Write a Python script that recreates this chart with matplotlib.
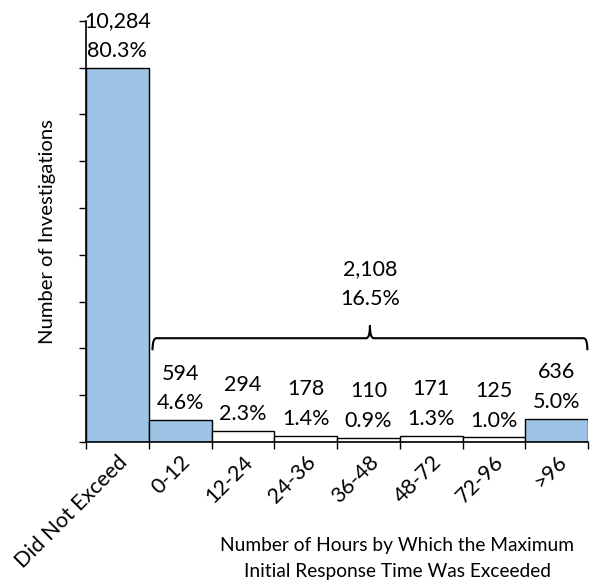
import matplotlib
matplotlib.use("Agg")
import matplotlib.pyplot as plt
from matplotlib.path import Path
from matplotlib.patches import PathPatch
import numpy as np

plt.rcParams['font.family'] = ['Lato', 'DejaVu Sans']

categories = ["Did Not Exceed", "0-12", "12-24", "24-36", "36-48", "48-72", "72-96", ">96"]
counts = [10284, 594, 294, 178, 110, 171, 125, 636]
percents = ["80.3%", "4.6%", "2.3%", "1.4%", "0.9%", "1.3%", "1.0%", "5.0%"]
highlighted = [True, True, False, False, False, False, False, True]
exceeded_total = 2108
exceeded_percent = "16.5%"

blue = "#9DC3E6"
fs = 15.5
ls = 1.6

fig = plt.figure(figsize=(5.90, 5.88), dpi=100)
ax = fig.add_axes([86 / 590, 1 - 442 / 588, (588 - 86) / 590, (442 - 20.7) / 588])

x = np.arange(len(categories))
colors = [blue if h else "white" for h in highlighted]
bars = ax.bar(x, counts, width=1.0, color=colors, edgecolor="black", linewidth=1.0, zorder=2)

for xi, c, p in zip(x, counts, percents):
    ax.annotate(f"{c:,}\n{p}", xy=(xi, c), xytext=(0, 5), textcoords="offset points",
                ha="center", va="bottom", fontsize=fs, linespacing=ls,
                annotation_clip=False)

step = counts[0] / 8
ax.set_ylim(0, step * 9)
ax.set_yticks(np.arange(0, 10) * step)
ax.set_yticklabels([])
ax.set_xlim(-0.5, len(categories) - 0.5)

ax.set_xticks(x)
ax.set_xticklabels(categories, rotation=45, ha="right", rotation_mode="anchor", fontsize=fs)
ax.tick_params(axis="x", which="major", length=0, pad=7)
ax.set_xticks(np.arange(len(categories) + 1) - 0.5, minor=True)
ax.tick_params(axis="x", which="minor", length=5, width=1, direction="out")
ax.tick_params(axis="y", length=5, width=1, direction="out")

for s in ("top", "right"):
    ax.spines[s].set_visible(False)
for s in ("left", "bottom"):
    ax.spines[s].set_linewidth(1.2)

ax.set_ylabel("Number of Investigations", fontsize=14.6, labelpad=13)
ax.set_xlabel("Number of Hours by Which the Maximum\nInitial Response Time Was Exceeded",
              fontsize=13.8, linespacing=1.6)
ax.xaxis.set_label_coords(0.62, -0.226)
ax.xaxis.label.set_va("top")

# curly brace spanning the exceeded categories
x0, x1 = 0.56, 7.49
xm = (x0 + x1) / 2
yb = 2850
yend = yb - 330
ypk = yb + 350
r = 0.06
verts = [
    (x0, yend), (x0, yb), (x0 + r, yb),
    (xm - r, yb), (xm, yb), (xm, ypk),
    (xm, yb), (xm + r, yb),
    (x1 - r, yb), (x1, yb), (x1, yend),
]
codes = [Path.MOVETO, Path.CURVE3, Path.CURVE3,
         Path.LINETO, Path.CURVE3, Path.CURVE3,
         Path.CURVE3, Path.CURVE3,
         Path.LINETO, Path.CURVE3, Path.CURVE3]
ax.add_patch(PathPatch(Path(verts, codes), facecolor="none", edgecolor="black",
                       linewidth=1.5, clip_on=False, zorder=3))
ax.annotate(f"{exceeded_total:,}\n{exceeded_percent}", xy=(xm, ypk), xytext=(0, 12),
            textcoords="offset points", ha="center", va="bottom", fontsize=fs,
            linespacing=ls)

fig.savefig("out.png", dpi=100)
